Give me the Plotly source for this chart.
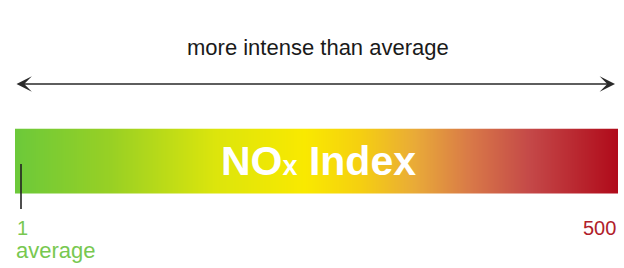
import plotly.graph_objects as go

# Data
index_range = [1, 500]          # NOx index scale ends
tick_values = [1, 500]
tick_labels = ["1", "500"]
low_label = "average"
arrow_label = "more intense than average"
bar_title = "<b>NO<span style='font-size:27px'>x</span> Index</b>"

# colour stops along the scale (fraction of scale, colour)
stop_pos = [0.0, 0.158, 0.332, 0.48, 0.57, 0.663, 0.756, 0.854, 1.0]
stop_col = ["#6cc93a", "#98d024", "#dce50c", "#f9e900", "#f5d010",
            "#e9aa38", "#d87848", "#c44848", "#b00a1a"]
colorscale = [[p, c] for p, c in zip(stop_pos, stop_col)]

W, H = 624, 268
FONT = "Liberation Sans"

def py(p):
    return 1 - p / H

def px(p):
    return p / W

fig = go.Figure()
fig.add_trace(go.Heatmap(
    x=index_range, y=[0, 1],
    z=[index_range, index_range],
    zmin=index_range[0], zmax=index_range[1],
    colorscale=colorscale, zsmooth="best",
    showscale=False, hoverinfo="skip",
))

fig.update_layout(
    width=W, height=H,
    margin=dict(l=0, r=0, t=0, b=0),
    paper_bgcolor="white", plot_bgcolor="white",
    xaxis=dict(domain=[px(15), px(618)], range=index_range, visible=False, fixedrange=True),
    yaxis=dict(domain=[py(194), py(128.5)], range=[0, 1], visible=False, fixedrange=True),
    showlegend=False,
)

# centre title inside bar
fig.add_annotation(x=0.5, y=0.5, xref="x domain", yref="y domain",
                   text=bar_title, showarrow=False,
                   font=dict(family=FONT, size=41, color="white"),
                   xanchor="center", yanchor="middle", xshift=2, yshift=0)

# arrow
fig.add_annotation(x=px(615), y=py(84), xref="paper", yref="paper",
                   ax=-(615 - 15), ay=0, text="", showarrow=True,
                   arrowhead=3, startarrowhead=3, arrowside="end+start",
                   arrowwidth=1.6, arrowsize=1.6, startarrowsize=1.6,
                   arrowcolor="#2a2a2a")

# arrow label
fig.add_annotation(x=px(318), y=py(47), xref="paper", yref="paper",
                   text=arrow_label, showarrow=False,
                   font=dict(family=FONT, size=22, color="#1a1a1a"),
                   xanchor="center", yanchor="middle")

# tick mark at the low end
fig.add_shape(type="line", xref="paper", yref="paper",
              x0=px(21), x1=px(21), y0=py(164), y1=py(209),
              line=dict(color="#222222", width=1.6))

# end labels
fig.add_annotation(x=tick_values[0], y=py(228), xref="x", yref="paper",
                   text=tick_labels[0], showarrow=False,
                   font=dict(family=FONT, size=20, color="#78c850"),
                   xanchor="left", yanchor="middle", xshift=0)
fig.add_annotation(x=tick_values[0], y=py(250), xref="x", yref="paper",
                   text=low_label, showarrow=False,
                   font=dict(family=FONT, size=22, color="#78c850"),
                   xanchor="left", yanchor="middle", xshift=-1)
fig.add_annotation(x=tick_values[1], y=py(228), xref="x", yref="paper",
                   text=tick_labels[1], showarrow=False,
                   font=dict(family=FONT, size=20, color="#b0202a"),
                   xanchor="right", yanchor="middle", xshift=0)

fig.write_html("out.html", config={"displayModeBar": False},
               post_script="document.body.style.margin='0';document.body.style.padding='0';")
